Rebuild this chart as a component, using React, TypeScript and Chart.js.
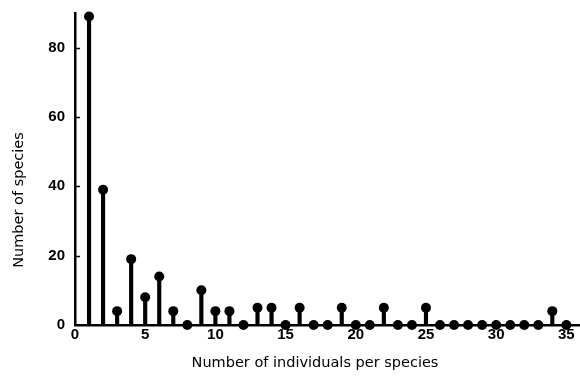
import React, { useEffect, useRef } from "react";
import { Chart, registerables } from "chart.js";

Chart.register(...registerables);

// Number of individuals per species (x categories)
const individualsPerSpecies = [
  1, 2, 3, 4, 5, 6, 7, 8, 9, 10, 11, 12, 13, 14, 15, 16, 17, 18, 19, 20, 21, 22,
  23, 24, 25, 26, 27, 28, 29, 30, 31, 32, 33, 34, 35,
];
// Number of species having that many individuals
const numberOfSpecies = [
  89, 39, 4, 19, 8, 14, 4, 0, 10, 4, 4, 0, 5, 5, 0, 5, 0, 0, 5, 0, 0, 5, 0, 0, 5,
  0, 0, 0, 0, 0, 0, 0, 0, 4, 0,
];
const xTickValues = [0, 5, 10, 15, 20, 25, 30, 35];
const yTickValues = [0, 20, 40, 60, 80];
const xTitle = "Number of individuals per species";
const yTitle = "Number of species";

const titleFont = '14.5px "DejaVu Sans"';

const decorations = {
  id: "decorations",
  afterDraw(chart: any) {
    const { ctx, chartArea, scales } = chart;
    ctx.save();
    // inward tick marks on the y axis
    ctx.strokeStyle = "#000";
    ctx.lineWidth = 1.5;
    yTickValues.forEach((v) => {
      if (v === 0) return;
      const py = Math.round(scales.y.getPixelForValue(v)) + 0.5;
      ctx.beginPath();
      ctx.moveTo(chartArea.left, py);
      ctx.lineTo(chartArea.left + 5, py);
      ctx.stroke();
    });
    // axis titles
    ctx.fillStyle = "#000";
    ctx.font = titleFont;
    ctx.textAlign = "center";
    ctx.textBaseline = "alphabetic";
    ctx.fillText(xTitle, 315, 367);
    ctx.translate(23, 200);
    ctx.rotate(-Math.PI / 2);
    ctx.fillText(yTitle, 0, 0);
    ctx.restore();
  },
};

export default function App() {
  const canvasRef = useRef<HTMLCanvasElement | null>(null);

  useEffect(() => {
    if (!canvasRef.current) return;
    const points = individualsPerSpecies.map((x, i) => ({ x, y: numberOfSpecies[i] }));
    const tickFont = { family: '"Liberation Sans", Arial, sans-serif', size: 15, weight: "bold" as const };
    const chart = new Chart(canvasRef.current, {
      type: "bar",
      data: {
        datasets: [
          {
            type: "scatter" as any,
            data: points,
            backgroundColor: "#000",
            borderColor: "#000",
            borderWidth: 0,
            pointRadius: 5,
            pointHoverRadius: 5,
            clip: false as any,
            order: 0,
          } as any,
          {
            type: "bar",
            data: points as any,
            backgroundColor: "#000",
            borderWidth: 0,
            barThickness: 3.5,
            order: 1,
          },
        ],
      },
      options: {
        animation: false,
        responsive: false,
        layout: { autoPadding: false, padding: { top: 13, right: 1, left: 0, bottom: 0 } },
        plugins: { legend: { display: false }, tooltip: { enabled: false } },
        scales: {
          x: {
            type: "linear",
            min: 0,
            max: 35.9,
            offset: false,
            grid: { display: false, drawTicks: false },
            border: { display: true, color: "#000", width: 2.5 },
            ticks: { color: "#000", font: tickFont, padding: 1, maxRotation: 0, autoSkip: false },
            afterBuildTicks: (s: any) => {
              s.ticks = xTickValues.map((v) => ({ value: v }));
            },
            afterFit: (s: any) => {
              s.height = 51;
              s.paddingLeft = 0;
              s.paddingRight = 0;
            },
          },
          y: {
            type: "linear",
            min: 0,
            max: 90,
            grid: { display: false, drawTicks: false },
            border: { display: true, color: "#000", width: 2.5 },
            ticks: { color: "#000", font: tickFont, padding: 10 },
            afterBuildTicks: (s: any) => {
              s.ticks = yTickValues.map((v) => ({ value: v }));
            },
            afterFit: (s: any) => {
              s.width = 75;
              s.paddingTop = 0;
              s.paddingBottom = 0;
            },
          },
        },
      },
      plugins: [decorations],
    });
    return () => chart.destroy();
  }, []);

  return (
    <div style={{ position: "fixed", left: 0, top: 0, width: 580, height: 376, background: "#fff" }}>
      <canvas ref={canvasRef} width={580} height={376} />
    </div>
  );
}
